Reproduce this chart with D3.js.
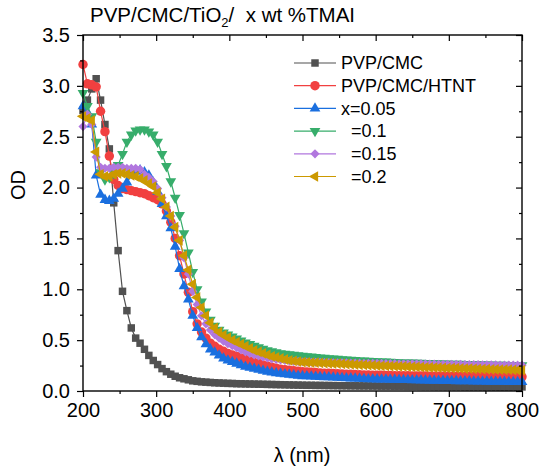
<!DOCTYPE html>
<head>
  <meta charset="utf-8">
  <script src="https://d3js.org/d3.v7.min.js"></script>
  <style>
    body { margin:0; background:#fff; }
    text { font-family: "Liberation Sans", Arial, sans-serif; fill:#000; white-space:pre; }
  </style>
</head>
<body>
<svg width="547" height="471" id="vis"></svg>
<script>
// wavelength grid (nm)
var wl = [200,206,212,218,224,230,236,242,248,254,260,266,272,278,284,290,296,302,308,314,
  320,326,332,338,344,350,356,362,368,374,380,386,392,398,404,410,416,422,428,434,
  440,446,452,458,464,470,476,482,488,494,500,506,512,518,524,530,536,542,548,554,
  560,566,572,578,584,590,596,602,608,614,620,626,632,638,644,650,656,662,668,674,
  680,686,692,698,704,710,716,722,728,734,740,746,752,758,764,770,776,782,788,794,800];

var pvpCmc = [2.76,2.86,2.97,3.07,2.86,2.62,2.38,1.85,1.38,0.98,
  0.79,0.62,0.52,0.47,0.41,0.35,0.30,0.26,0.22,0.19,
  0.165,0.145,0.13,0.12,0.11,0.10,0.095,0.09,0.087,0.084,
  0.081,0.079,0.077,0.075,0.074,0.072,0.071,0.07,0.069,0.068,
  0.067,0.066,0.065,0.064,0.063,0.062,0.061,0.06,0.059,0.058,0.057,
  0.056,0.056,0.055,0.055,0.054,0.054,0.053,0.053,0.052,0.052,
  0.051,0.051,0.050,0.050,0.050,0.049,0.049,0.048,0.048,0.048,
  0.047,0.047,0.047,0.046,0.046,0.046,0.045,0.045,0.045,0.044,
  0.044,0.044,0.043,0.043,0.043,0.043,0.042,0.042,0.042,0.042,
  0.041,0.041,0.041,0.041,0.040,0.040,0.040,0.040,0.040,0.040];

var htnt = [3.21,3.02,3.01,2.99,2.75,2.55,2.31,2.08,2.02,1.99,
  1.98,1.97,1.96,1.95,1.94,1.92,1.90,1.88,1.84,1.77,
  1.66,1.50,1.33,1.15,0.97,0.78,0.66,0.58,0.52,0.47,
  0.44,0.41,0.39,0.37,0.355,0.34,0.325,0.31,0.295,0.28,
  0.27,0.255,0.245,0.235,0.225,0.215,0.21,0.205,0.20,0.195,0.19,
  0.187,0.184,0.181,0.178,0.176,0.174,0.172,0.170,0.168,0.166,
  0.164,0.162,0.160,0.158,0.157,0.156,0.155,0.154,0.153,0.152,
  0.151,0.150,0.150,0.149,0.148,0.148,0.147,0.147,0.146,0.146,
  0.145,0.145,0.145,0.144,0.144,0.144,0.143,0.143,0.143,0.142,
  0.142,0.142,0.141,0.141,0.141,0.140,0.140,0.140,0.140,0.139];

var x005 = [2.80,2.74,2.62,2.12,1.93,1.88,1.87,1.89,1.94,1.99,
  2.05,2.12,2.16,2.17,2.15,2.12,2.05,1.96,1.84,1.72,
  1.60,1.42,1.20,1.03,0.90,0.74,0.62,0.53,0.46,0.41,
  0.38,0.35,0.32,0.30,0.285,0.27,0.255,0.24,0.23,0.22,
  0.21,0.20,0.19,0.182,0.175,0.17,0.165,0.16,0.155,0.15,0.147,
  0.145,0.143,0.141,0.139,0.137,0.135,0.133,0.131,0.129,0.127,
  0.125,0.123,0.121,0.119,0.117,0.116,0.115,0.114,0.113,0.112,
  0.111,0.110,0.109,0.108,0.107,0.106,0.105,0.104,0.103,0.102,
  0.101,0.100,0.099,0.099,0.098,0.097,0.096,0.096,0.095,0.094,
  0.094,0.093,0.092,0.092,0.091,0.091,0.090,0.090,0.089,0.089];

var x01 = [2.93,2.80,2.70,2.45,2.15,2.08,2.10,2.14,2.22,2.33,
  2.45,2.52,2.56,2.57,2.57,2.55,2.52,2.45,2.33,2.21,
  2.06,1.90,1.73,1.55,1.36,1.17,1.00,0.88,0.78,0.70,
  0.64,0.60,0.575,0.555,0.535,0.515,0.495,0.475,0.46,0.445,
  0.43,0.415,0.40,0.39,0.38,0.37,0.365,0.36,0.355,0.35,0.345,
  0.341,0.337,0.333,0.329,0.325,0.321,0.318,0.315,0.312,0.309,
  0.306,0.303,0.300,0.298,0.296,0.294,0.292,0.290,0.288,0.286,
  0.284,0.282,0.280,0.279,0.278,0.277,0.276,0.275,0.274,0.273,
  0.271,0.270,0.269,0.268,0.267,0.266,0.265,0.264,0.263,0.262,
  0.261,0.260,0.259,0.258,0.257,0.256,0.255,0.254,0.253,0.252];

var x015 = [2.60,2.72,2.62,2.30,2.20,2.19,2.19,2.20,2.20,2.20,
  2.19,2.19,2.19,2.18,2.13,2.10,2.06,1.99,1.90,1.81,
  1.72,1.62,1.48,1.31,1.15,0.98,0.85,0.74,0.66,0.60,
  0.555,0.52,0.49,0.465,0.445,0.425,0.405,0.385,0.37,0.355,
  0.345,0.335,0.325,0.315,0.31,0.305,0.30,0.295,0.29,0.29,0.285,
  0.284,0.283,0.282,0.281,0.280,0.279,0.278,0.278,0.277,0.276,
  0.275,0.275,0.274,0.273,0.273,0.272,0.271,0.271,0.270,0.270,
  0.269,0.268,0.268,0.267,0.267,0.266,0.266,0.265,0.265,0.264,
  0.263,0.263,0.262,0.262,0.261,0.261,0.260,0.260,0.259,0.259,
  0.258,0.258,0.257,0.257,0.256,0.256,0.255,0.255,0.254,0.254];

var x02 = [2.70,2.68,2.66,2.35,2.13,2.11,2.11,2.13,2.14,2.14,
  2.13,2.12,2.11,2.09,2.07,2.04,2.01,1.95,1.89,1.81,
  1.72,1.61,1.48,1.33,1.19,1.05,0.92,0.82,0.74,0.67,
  0.62,0.58,0.55,0.525,0.50,0.48,0.46,0.44,0.42,0.40,
  0.385,0.37,0.355,0.34,0.33,0.32,0.31,0.30,0.295,0.29,0.285,
  0.282,0.280,0.278,0.276,0.274,0.272,0.270,0.268,0.266,0.264,
  0.262,0.260,0.258,0.256,0.254,0.252,0.250,0.248,0.246,0.245,
  0.244,0.242,0.241,0.239,0.238,0.236,0.235,0.233,0.232,0.230,
  0.229,0.228,0.226,0.225,0.224,0.222,0.221,0.220,0.218,0.217,
  0.216,0.215,0.213,0.212,0.211,0.210,0.209,0.207,0.206,0.205];

var labels = ["PVP/CMC", "PVP/CMC/HTNT", "x=0.05", "  =0.1", "  =0.15", "  =0.2"];
var colors = ["#515151", "#F14040", "#1A6FDF", "#37AD6B", "#B177DE", "#CC9900"];
var xTicks = [200, 300, 400, 500, 600, 700, 800];
var yTicks = [0, 0.5, 1, 1.5, 2, 2.5, 3, 3.5];

var series = [pvpCmc, htnt, x005, x01, x015, x02];

var svg = d3.select("#vis");
var x = d3.scaleLinear().domain([200, 800]).range([83, 522]);
var y = d3.scaleLinear().domain([0, 3.5]).range([391, 35]);

// marker shapes: square, circle, up, down, diamond, left
var shapes = [
  {t: d3.symbolSquare, s: 56, r: 0},
  {t: d3.symbolCircle, s: 70, r: 0},
  {t: d3.symbolTriangle, s: 50, r: 0},
  {t: d3.symbolTriangle, s: 50, r: 180},
  {t: d3.symbolSquare, s: 42, r: 45},
  {t: d3.symbolTriangle, s: 50, r: -90}
];

var line = d3.line().x(function(d) { return x(d[0]); }).y(function(d) { return y(d[1]); });

var plot = svg.append("g");
series.forEach(function(vals, i) {
  var pts = wl.map(function(w, j) { return [w, vals[j]]; });
  var g = plot.append("g");
  g.append("path").datum(pts)
    .attr("fill", "none").attr("stroke", colors[i]).attr("stroke-width", 1.2)
    .attr("d", line);
  var sym = d3.symbol().type(shapes[i].t).size(shapes[i].s);
  g.selectAll("path.m").data(pts).enter().append("path")
    .attr("class", "m")
    .attr("d", sym)
    .attr("fill", colors[i])
    .attr("transform", function(d) {
      return "translate(" + x(d[0]) + "," + y(d[1]) + ") rotate(" + shapes[i].r + ")";
    });
});

// axes
var xMinor = [250, 350, 450, 550, 650, 750];
var yMinor = [0.25, 0.75, 1.25, 1.75, 2.25, 2.75, 3.25];

function styleAxis(sel) {
  sel.select(".domain").remove();
  sel.selectAll("line").attr("stroke", "#000").attr("stroke-width", 1.2);
  sel.selectAll("text").style("font-size", "20px").attr("fill", "#000");
}

svg.append("g").attr("transform", "translate(0,391)")
  .call(d3.axisBottom(x).tickValues(xTicks).tickSize(6).tickPadding(6).tickFormat(d3.format("d")))
  .call(styleAxis);
svg.append("g").attr("transform", "translate(0,391)")
  .call(d3.axisBottom(x).tickValues(xMinor).tickSize(3).tickFormat(""))
  .call(styleAxis);
svg.append("g").attr("transform", "translate(83,0)")
  .call(d3.axisLeft(y).tickValues(yTicks).tickSize(6).tickPadding(7).tickFormat(d3.format(".1f")))
  .call(styleAxis);
svg.append("g").attr("transform", "translate(83,0)")
  .call(d3.axisLeft(y).tickValues(yMinor).tickSize(3).tickFormat(""))
  .call(styleAxis);
svg.append("g").attr("transform", "translate(0,35)")
  .call(d3.axisTop(x).tickValues(xTicks).tickSize(-6).tickFormat(""))
  .call(styleAxis);
svg.append("g").attr("transform", "translate(0,35)")
  .call(d3.axisTop(x).tickValues(xMinor).tickSize(-3).tickFormat(""))
  .call(styleAxis);
svg.append("g").attr("transform", "translate(522,0)")
  .call(d3.axisRight(y).tickValues(yTicks).tickSize(-6).tickFormat(""))
  .call(styleAxis);
svg.append("g").attr("transform", "translate(522,0)")
  .call(d3.axisRight(y).tickValues(yMinor).tickSize(-3).tickFormat(""))
  .call(styleAxis);

svg.append("rect").attr("x", 83).attr("y", 35).attr("width", 439).attr("height", 356)
  .attr("fill", "none").attr("stroke", "#000").attr("stroke-width", 1.4);

// titles
var title = svg.append("text").attr("x", 90).attr("y", 22).style("font-size", "20.5px");
title.append("tspan").text("PVP/CMC/TiO");
title.append("tspan").text("2").style("font-size", "13px").attr("dy", 5);
title.append("tspan").text("/  x wt %TMAI").attr("dy", -5);

svg.append("text").attr("x", 302).attr("y", 462).attr("text-anchor", "middle")
  .style("font-size", "20px").text("λ (nm)");
svg.append("text").attr("transform", "translate(25,185) rotate(-90)")
  .attr("text-anchor", "middle").style("font-size", "20px").text("OD");

// legend
var leg = svg.append("g");
labels.forEach(function(lab, i) {
  var ly = 63 + i * 22.7;
  leg.append("line").attr("x1", 294).attr("x2", 336).attr("y1", ly).attr("y2", ly)
    .attr("stroke", colors[i]).attr("stroke-width", 1.2);
  leg.append("path").attr("d", d3.symbol().type(shapes[i].t).size(shapes[i].s))
    .attr("fill", colors[i])
    .attr("transform", "translate(315," + ly + ") rotate(" + shapes[i].r + ")");
  leg.append("text").attr("x", 341).attr("y", ly).attr("dy", "0.35em")
    .style("font-size", "18px").text(lab);
});
</script>
</body>
